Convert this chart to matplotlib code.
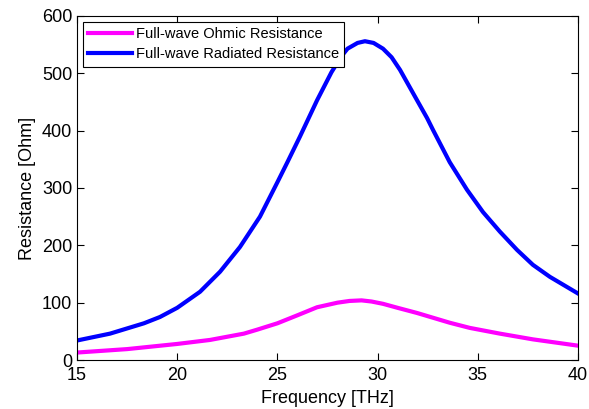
import matplotlib.pyplot as plt

plt.rcParams['font.family'] = ['Liberation Sans', 'DejaVu Sans']

# blue curve: full-wave radiated resistance
f_rad = [15, 16.65, 18.34, 19.14, 20, 21.14, 22.14, 23.13, 24.13, 25, 25.5,
         26.13, 26.98, 27.7, 28.2, 28.5, 29.0, 29.37, 29.8, 30.27, 30.7, 31.12,
         31.97, 32.47, 32.77, 33.6, 34.46, 35.26, 36.1, 36.96, 37.75, 38.6, 40]
r_rad = [34, 46, 64, 75, 91, 119, 154, 197, 250, 310, 345,
         390, 453, 502, 530, 543, 553, 556, 553, 543, 528, 506,
         453, 422, 401, 345, 297, 258, 224, 192, 166, 145, 116]

# magenta curve: full-wave ohmic resistance
f_ohm = [15, 17.5, 20, 21.64, 23.33, 24, 25, 26, 26.98, 28.0, 28.6, 29.2,
         29.7, 30.27, 31.0, 31.97, 33.6, 34.6, 36.1, 37.75, 40]
r_ohm = [13, 19, 28, 35, 46, 53, 64, 78, 92, 100, 103, 104,
         102, 98, 91, 82, 65, 56, 46, 36, 25]

fig = plt.figure(figsize=(5.89, 4.09), dpi=100)
ax = fig.add_axes([0.1307, 0.1198, 0.8506, 0.8411])

ax.plot(f_ohm, r_ohm, color='#ff00ff', lw=3, label='Full-wave Ohmic Resistance')
ax.plot(f_rad, r_rad, color='#0000ff', lw=3, label='Full-wave Radiated Resistance')

ax.set_xlim(15, 40)
ax.set_ylim(0, 600)
ax.set_xticks([15, 20, 25, 30, 35, 40])
ax.set_yticks([0, 100, 200, 300, 400, 500, 600])
ax.tick_params(direction='in', top=True, right=True, length=5, labelsize=13)
ax.tick_params(axis='x', pad=5)
ax.set_xlabel('Frequency [THz]', fontsize=13)
ax.set_ylabel('Resistance [Ohm]', fontsize=13)

leg = ax.legend(loc='upper left', fontsize=10.5, fancybox=False, framealpha=1,
                edgecolor='black', handlelength=3.0, borderaxespad=0.4,
                borderpad=0.35, labelspacing=0.45, handletextpad=0.3)
leg.get_frame().set_linewidth(0.8)

fig.savefig('out.png', dpi=100)
